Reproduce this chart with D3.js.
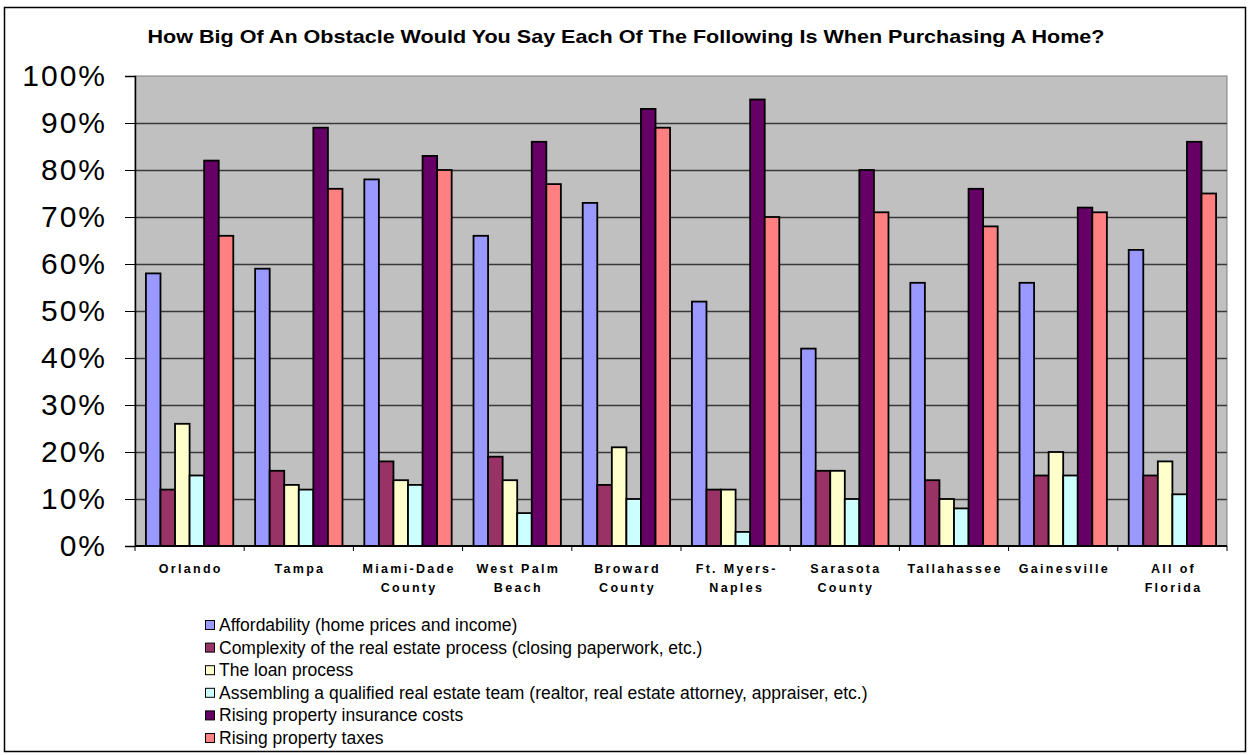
<!DOCTYPE html>
<html>
<head>
<meta charset="utf-8">
<script src="https://cdn.jsdelivr.net/npm/d3@7"></script>
<style>
  body { margin: 0; background: #fff; }
  svg { display: block; font-family: Arial, "Liberation Sans", sans-serif; }
</style>
</head>
<body>
<svg id="chart" width="1250" height="755"></svg>
<script>
const categories = [
  ['Orlando'], ['Tampa'], ['Miami-Dade', 'County'], ['West Palm', 'Beach'],
  ['Broward', 'County'], ['Ft. Myers-', 'Naples'], ['Sarasota', 'County'],
  ['Tallahassee'], ['Gainesville'], ['All of', 'Florida']
];

const seriesNames = [
  'Affordability (home prices and income)',
  'Complexity of the real estate process (closing paperwork, etc.)',
  'The loan process',
  'Assembling a qualified real estate team (realtor, real estate attorney, appraiser, etc.)',
  'Rising property insurance costs',
  'Rising property taxes'
];
const seriesColors = ['#9999FF', '#993366', '#FFFFCC', '#CCFFFF', '#660066', '#FF8080'];

// one array per series, in category order
const affordability = [58, 59, 78, 66, 73, 52, 42, 56, 56, 63];
const complexity    = [12, 16, 18, 19, 13, 12, 16, 14, 15, 15];
const loanProcess   = [26, 13, 14, 14, 21, 12, 16, 10, 20, 18];
const assembling    = [15, 12, 13,  7, 10,  3, 10,  8, 15, 11];
const insurance     = [82, 89, 83, 86, 93, 95, 80, 76, 72, 86];
const taxes         = [66, 76, 80, 77, 89, 70, 71, 68, 71, 75];
const seriesValues = [affordability, complexity, loanProcess, assembling, insurance, taxes];

const yTicks = [0, 10, 20, 30, 40, 50, 60, 70, 80, 90, 100];

const svg = d3.select('#chart');

// outer frame
svg.append('rect')
  .attr('x', 4.5).attr('y', 7.5).attr('width', 1241).attr('height', 744)
  .attr('fill', '#fff').attr('stroke', '#000').attr('stroke-width', 1.5);

svg.append('text')
  .attr('x', 626).attr('y', 43)
  .attr('text-anchor', 'middle')
  .attr('font-weight', 'bold')
  .attr('font-size', 19)
  .attr('textLength', 957)
  .attr('lengthAdjust', 'spacingAndGlyphs')
  .text('How Big Of An Obstacle Would You Say Each Of The Following Is When Purchasing A Home?');

const plot = { left: 135, right: 1227, top: 76, bottom: 546 };

const x0 = d3.scaleBand()
  .domain(d3.range(categories.length))
  .range([plot.left, plot.right])
  .paddingInner(0).paddingOuter(0);

// 6 bars + gap of 1.5 bar widths per category
const x1 = d3.scaleBand()
  .domain(d3.range(seriesNames.length))
  .range([0, x0.bandwidth()])
  .paddingInner(0)
  .paddingOuter(0.75);

const y = d3.scaleLinear().domain([0, 100]).range([plot.bottom, plot.top]);

// plot background
svg.append('rect')
  .attr('x', plot.left).attr('y', plot.top)
  .attr('width', plot.right - plot.left).attr('height', plot.bottom - plot.top)
  .attr('fill', '#C0C0C0').attr('stroke', '#808080').attr('stroke-width', 1);

// gridlines
svg.append('g')
  .selectAll('line')
  .data(yTicks.filter(d => d > 0 && d < 100))
  .join('line')
  .attr('x1', plot.left).attr('x2', plot.right)
  .attr('y1', d => Math.round(y(d)) + 0.5).attr('y2', d => Math.round(y(d)) + 0.5)
  .attr('stroke', '#383838').attr('stroke-width', 1.3);

// bars
const groups = svg.append('g')
  .selectAll('g')
  .data(categories.map((c, i) => i))
  .join('g')
  .attr('transform', i => `translate(${x0(i)},0)`);

groups.selectAll('rect')
  .data(i => seriesValues.map((vals, s) => ({ s, v: vals[i] })))
  .join('rect')
  .attr('x', d => x1(d.s))
  .attr('y', d => y(d.v))
  .attr('width', x1.bandwidth())
  .attr('height', d => y(0) - y(d.v))
  .attr('fill', d => seriesColors[d.s])
  .attr('stroke', '#000')
  .attr('stroke-width', 1.8);

// y axis
const yAxis = d3.axisLeft(y)
  .tickValues(yTicks)
  .tickSize(10)
  .tickPadding(18)
  .tickFormat(d => d + '%');

const yg = svg.append('g')
  .attr('transform', `translate(${plot.left},0)`)
  .call(yAxis);
yg.select('.domain').attr('stroke', '#000').attr('stroke-width', 1.5);
yg.selectAll('.tick line').attr('stroke', '#000');
yg.selectAll('.tick text')
  .attr('font-size', 30)
  .attr('letter-spacing', 2)
  .attr('font-family', 'Arial, "Liberation Sans", sans-serif')
  .attr('fill', '#000');

// x axis: ticks at category boundaries
svg.append('line')
  .attr('x1', plot.left).attr('x2', plot.right)
  .attr('y1', plot.bottom).attr('y2', plot.bottom)
  .attr('stroke', '#000').attr('stroke-width', 2);

svg.append('g')
  .selectAll('line')
  .data(d3.range(categories.length + 1))
  .join('line')
  .attr('x1', i => plot.left + i * x0.bandwidth())
  .attr('x2', i => plot.left + i * x0.bandwidth())
  .attr('y1', plot.bottom).attr('y2', plot.bottom + 5)
  .attr('stroke', '#000');

const labelSpacing = 2.3;
const labels = svg.append('g')
  .selectAll('text')
  .data(categories)
  .join('text')
  .attr('x', (d, i) => x0(i) + x0.bandwidth() / 2 + labelSpacing / 2)
  .attr('y', 573)
  .attr('text-anchor', 'middle')
  .attr('font-weight', 'bold')
  .attr('font-size', 12.5)
  .attr('letter-spacing', labelSpacing);

labels.selectAll('tspan')
  .data(d => d)
  .join('tspan')
  .attr('x', function () { return this.parentNode.getAttribute('x'); })
  .attr('dy', (d, i) => i === 0 ? 0 : 19)
  .text(d => d);

// legend
const legend = svg.append('g')
  .selectAll('g')
  .data(seriesNames)
  .join('g')
  .attr('transform', (d, i) => `translate(205,${625 + i * 22.6})`);

legend.append('rect')
  .attr('x', 0.5).attr('y', -4.5)
  .attr('width', 9).attr('height', 9)
  .attr('fill', (d, i) => seriesColors[i])
  .attr('stroke', '#000').attr('stroke-width', 1);

legend.append('text')
  .attr('x', 14).attr('y', 6)
  .attr('font-size', 17.5)
  .text(d => d);
</script>
</body>
</html>
